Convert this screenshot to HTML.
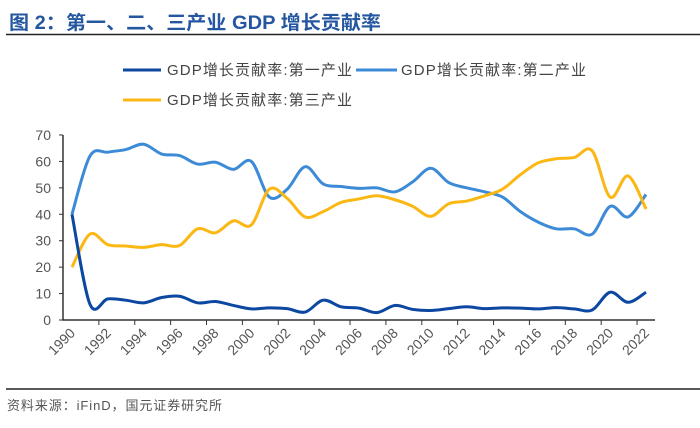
<!DOCTYPE html>
<html><head><meta charset="utf-8"><style>
body{margin:0;width:700px;height:423px;background:#fff;overflow:hidden;font-family:"Liberation Sans","Noto Sans CJK SC",sans-serif;}
</style></head><body>
<svg width="700" height="423" xmlns="http://www.w3.org/2000/svg">
<text x="9" y="29" font-size="19" font-weight="bold" fill="#2457a0" textLength="372" lengthAdjust="spacingAndGlyphs" font-family="Liberation Sans,Noto Sans CJK SC,sans-serif">图 2：第一、二、三产业 GDP 增长贡献率</text>
<line x1="6" y1="34.5" x2="700" y2="34.5" stroke="#222" stroke-width="1.5"/>
<g font-size="15" fill="#444" font-family="Liberation Sans,Noto Sans CJK SC,sans-serif">
<g><line x1="123" y1="70" x2="161" y2="70" stroke="#0c47a1" stroke-width="3"/><text x="167" y="75" textLength="185" lengthAdjust="spacing">GDP增长贡献率:第一产业</text></g>
<g><line x1="356" y1="70" x2="397" y2="70" stroke="#3d8bd6" stroke-width="3"/><text x="401" y="75" textLength="185" lengthAdjust="spacing">GDP增长贡献率:第二产业</text></g>
<g><line x1="123" y1="100" x2="161" y2="100" stroke="#fbb814" stroke-width="3"/><text x="167" y="105" textLength="185" lengthAdjust="spacing">GDP增长贡献率:第三产业</text></g>
</g>
<g id="plot"></g>
<line x1="6" y1="389" x2="700" y2="389" stroke="#222" stroke-width="1.5"/>
<text x="7" y="410" font-size="13" fill="#555" textLength="215" lengthAdjust="spacing" font-family="Liberation Sans,Noto Sans CJK SC,sans-serif">资料来源：iFinD，国元证券研究所</text>
</svg>
<script>
const years=[];for(let y=1990;y<=2022;y++)years.push(y);
const primary=[40,6,8,7.5,6.5,8.5,9,6.5,7,5.5,4.2,4.6,4.3,3,7.5,5,4.5,2.8,5.5,4,3.6,4.3,5,4.3,4.6,4.5,4.2,4.7,4.2,3.8,10.5,6.7,10.5];
const secondary=[40,62,63.5,64.5,66.5,62.8,62.2,59,59.7,57,60,46.5,49.5,58,51.5,50.5,49.8,50,48.5,52.3,57.4,52,50,48.5,46.5,41,37,34.5,34.5,32.5,43,39,47.5];
const tertiary=[20,32.5,28.5,28,27.5,28.5,28.2,34.5,33,37.5,36,49.5,46,39,41,44.5,45.8,47,45.5,43,39.2,44,45,47,49.5,55,59.5,61,61.5,64,46.5,54.5,42];
const yTicks=[0,10,20,30,40,50,60,70];
const NS="http://www.w3.org/2000/svg";
const g=document.getElementById('plot');
const X0=63,X1=655,Y0=320,Y1=135;
const bw=(X1-X0)/years.length;
const xs=i=>X0+bw*(i+0.5);
const ys=v=>Y0-(v/70)*(Y0-Y1);
function mk(t,a){const e=document.createElementNS(NS,t);for(const k in a)e.setAttribute(k,a[k]);g.appendChild(e);return e;}
const ax=mk('path',{d:`M${X0} ${Y1} V${Y0} H${X1}`,fill:'none',stroke:'#333','stroke-width':1.5});


yTicks.forEach(v=>{
 const t=mk('line',{x1:X0-4,x2:X0,y1:ys(v),y2:ys(v),stroke:'#333'});
 
 
 const l=mk('text',{x:X0-12,y:ys(v)+5,'text-anchor':'end','font-size':14,fill:'#555'});
 l.textContent=v;
 
 
});
years.forEach((y,i)=>{
 if(i%2==0&&i>0){const tx=X0+bw*i;const t=mk('line',{x1:tx,x2:tx,y1:Y0,y2:Y0+5,stroke:'#333'});
 
 }
 if(i%2==0){const x=xs(i)+4,yy=Y0+14;const l=mk('text',{x:x,y:yy,'text-anchor':'end','font-size':14,fill:'#555',transform:`rotate(-45 ${x} ${yy})`});
 l.textContent=y;
 
 }
});
function path(vals){const p=vals.map((v,i)=>[xs(i),ys(v)]);let d=`M${p[0][0]} ${p[0][1]}`;
 for(let i=0;i<p.length-1;i++){const a=p[i-1]||p[i],b=p[i],c=p[i+1],e=p[i+2]||c;
 d+=` C${b[0]+(c[0]-a[0])/6} ${b[1]+(c[1]-a[1])/6} ${c[0]-(e[0]-b[0])/6} ${c[1]-(e[1]-b[1])/6} ${c[0]} ${c[1]}`;}return d;}
[[secondary,'#3d8bd6','series-secondary'],[tertiary,'#fbb814','series-tertiary'],[primary,'#0c47a1','series-primary']].forEach(([v,c,n])=>{
 const l=mk('path',{d:path(v),fill:'none',stroke:c,'stroke-width':3,'stroke-linejoin':'round'});
 
 
});
</script>
</body></html>
